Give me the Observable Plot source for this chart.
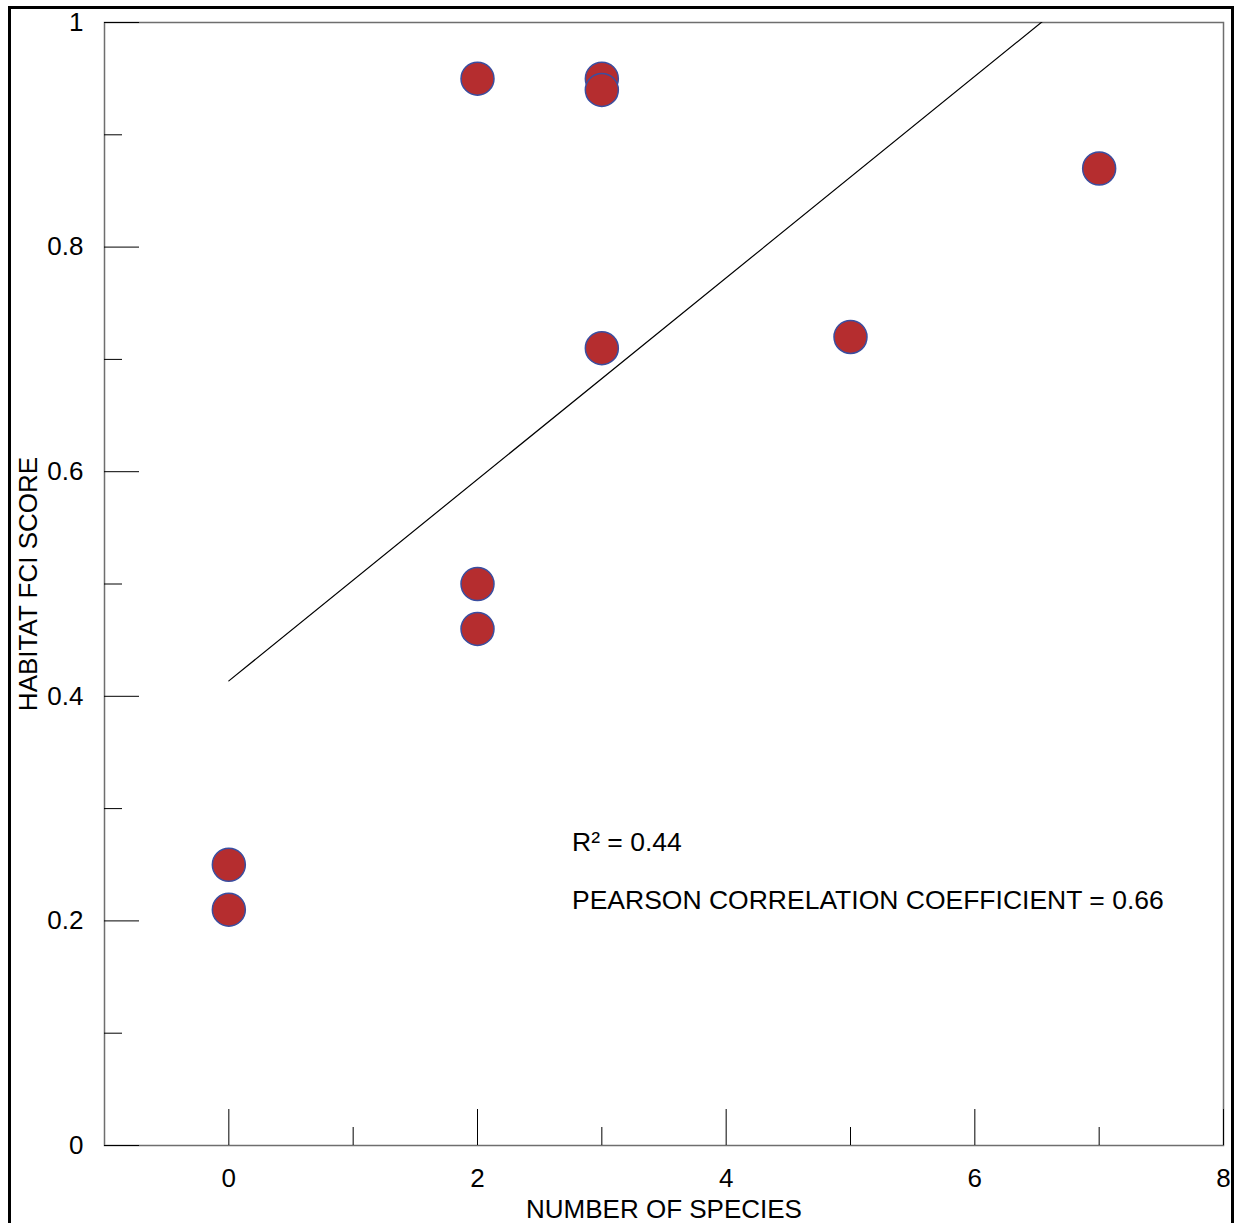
<!DOCTYPE html>
<html>
<head>
<meta charset="utf-8">
<script src="https://cdn.jsdelivr.net/npm/d3@7"></script>
<script src="https://cdn.jsdelivr.net/npm/@observablehq/plot@0.6"></script>
<style>
  html, body { margin: 0; padding: 0; background: #fff; }
  #wrap { position: relative; width: 1235px; height: 1223px; overflow: hidden; }
  #border { position: absolute; left: 8px; top: 6px; width: 1226px; height: 1240px; border: 3px solid #000; box-sizing: border-box; pointer-events: none; }
  #chart svg { display: block; }
</style>
</head>
<body>
<div id="wrap">
  <div id="chart"></div>
  <div id="border"></div>
</div>
<script>
// Number of species observed at each site and its habitat FCI score
const species = [0, 0, 2, 2, 2, 3, 3, 3, 5, 7];
const fciScore = [0.25, 0.21, 0.95, 0.50, 0.46, 0.95, 0.94, 0.71, 0.72, 0.87];

// Axis ticks
const xMajorTicks = [0, 2, 4, 6, 8];
const xMinorTicks = [1, 3, 5, 7];
const yMajorTicks = [0, 0.2, 0.4, 0.6, 0.8, 1];
const yMinorTicks = [0.1, 0.3, 0.5, 0.7, 0.9];

// Statistics text
const statLines = ["R\u00B2 = 0.44", "PEARSON CORRELATION COEFFICIENT = 0.66"];
const statY = [0.27, 0.218];
const statX = 2.76;

const sites = species.map((s, i) => ({species: s, score: fciScore[i]}));
const stats = statLines.map((t, i) => ({text: t, y: statY[i]}));

const W = 1235, H = 1223;
const mL = 104, mR = 12, mT = 22, mB = 78;
const innerW = W - mL - mR, innerH = H - mT - mB;
const font = "'Liberation Sans', Arial, Helvetica, sans-serif";
const fs = 26;

const chart = Plot.plot({
  width: W,
  height: H,
  marginLeft: mL,
  marginRight: mR,
  marginTop: mT,
  marginBottom: mB,
  style: {fontFamily: font, fontSize: fs + "px", color: "#000", background: "#fff"},
  x: {domain: [-1, 8]},
  y: {domain: [0, 1]},
  marks: [
    Plot.frame({stroke: "#6e6e6e", strokeWidth: 1.5}),
    // inward ticks along the bottom
    Plot.tickX(xMajorTicks, {x: d => d, stroke: "#000", insetTop: innerH - 36}),
    Plot.tickX(xMinorTicks, {x: d => d, stroke: "#000", insetTop: innerH - 18}),
    // inward ticks along the left
    Plot.tickY(yMajorTicks, {y: d => d, stroke: "#000", insetRight: innerW - 35}),
    Plot.tickY(yMinorTicks, {y: d => d, stroke: "#000", insetRight: innerW - 18}),
    Plot.axisX({
      ticks: xMajorTicks, tickSize: 0, tickPadding: 23, tickFormat: d3.format("d"),
      fontSize: fs, label: "NUMBER OF SPECIES", labelAnchor: "center", labelArrow: "none", labelOffset: 72
    }),
    Plot.axisY({
      ticks: yMajorTicks, tickSize: 0, tickPadding: 21, tickFormat: d => String(d),
      fontSize: fs, label: "HABITAT FCI SCORE", labelAnchor: "center", labelArrow: "none", labelOffset: 86
    }),
    Plot.linearRegressionY(sites, {x: "species", y: "score", ci: 0, stroke: "#000", strokeWidth: 1.2, clip: true}),
    Plot.dot(sites, {x: "species", y: "score", r: 16.5, fill: "#b52d2f", stroke: "#3a4ea0", strokeWidth: 1.5}),
    Plot.text(stats, {x: statX, y: "y", text: "text", textAnchor: "start", fontSize: 26.5, fill: "#000"})
  ]
});

document.getElementById("chart").appendChild(chart);
</script>
</body>
</html>
